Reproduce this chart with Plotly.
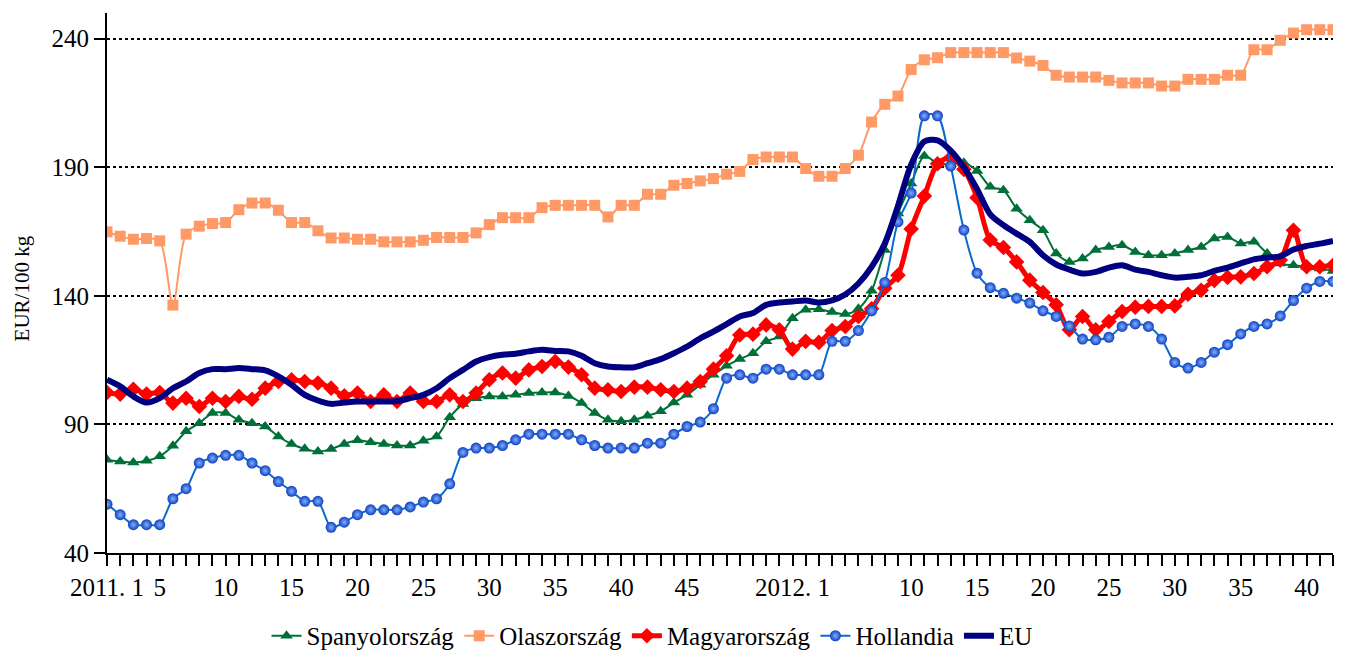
import plotly.graph_objects as go

# x positions: 2011 weeks 1-52 then 2012 weeks 1-42 (94 weekly points)
weeks_2011 = list(range(1, 53))
weeks_2012 = list(range(1, 43))
x_idx = list(range(len(weeks_2011) + len(weeks_2012)))

tick_positions = [0, 4, 9, 14, 19, 24, 29, 34, 39, 44, 52, 61, 66, 71, 76, 81, 86, 91]
tick_labels = ["2011. 1", "5", "10", "15", "20", "25", "30", "35", "40", "45",
               "2012. 1", "10", "15", "20", "25", "30", "35", "40"]

spanyol = [76.3, 75.6, 75.2, 75.9, 77.6, 81.7, 87.3, 90.5, 94.4, 94.4,
           91.8, 90.5, 89.2, 85.3, 82.4, 80.5, 79.5, 80.4, 82.4, 83.8,
           83.1, 82.4, 81.8, 81.8, 83.7, 85.3, 92.8, 97.9, 100.2, 100.9,
           100.9, 101.5, 102.2, 102.4, 102.4, 101.1, 98.3, 94.4, 91.8, 91.2,
           91.8, 93.4, 95.1, 98.5, 101.5, 105.4, 109.3, 112.8, 115.4, 117.7,
           122.3, 124.2, 131.3, 134.6, 134.8, 133.7, 132.9, 135.0, 142.0, 157.8,
           172.0, 183.7, 194.4, 191.5, 191.2, 191.8, 188.6, 182.4, 181.1, 173.9,
           169.4, 165.5, 156.5, 153.2, 154.5, 157.8, 159.0, 159.7, 157.1, 155.8,
           155.8, 156.5, 157.8, 159.0, 162.3, 162.9, 160.4, 161.0, 156.5, 152.6,
           151.9, 151.3, 150.6, 149.7]

olasz = [164.9, 163.2, 162.0, 162.3, 161.4, 136.4, 164.0, 167.1, 168.1, 168.5,
         173.5, 176.1, 176.1, 173.3, 168.5, 168.5, 165.3, 162.5, 162.5, 162.0,
         162.0, 161.0, 161.0, 161.0, 161.6, 162.7, 162.7, 162.7, 164.5, 167.7,
         170.4, 170.4, 170.4, 174.3, 175.2, 175.2, 175.2, 175.2, 170.7, 175.2,
         175.2, 179.5, 179.5, 183.0, 183.7, 184.7, 185.6, 187.3, 188.4, 193.0,
         194.0, 194.0, 194.0, 189.5, 186.5, 186.5, 189.5, 194.7, 207.6, 214.5,
         217.7, 228.0, 231.8, 232.6, 234.6, 234.6, 234.6, 234.6, 234.6, 232.5,
         231.3, 229.6, 225.8, 225.1, 225.1, 225.1, 223.8, 222.8, 222.8, 222.8,
         221.6, 221.6, 224.2, 224.2, 224.2, 225.8, 225.8, 235.7, 235.7, 239.4,
         242.2, 243.5, 243.5, 243.5]

magyar = [102.4, 101.8, 103.7, 101.8, 102.4, 98.3, 100.2, 97.0, 100.2, 98.9,
          100.9, 99.8, 104.1, 106.7, 107.4, 106.7, 106.1, 104.1, 101.1, 102.2,
          98.9, 101.5, 98.9, 102.2, 98.9, 98.9, 101.5, 98.9, 102.2, 107.4,
          110.0, 108.0, 111.2, 112.5, 114.5, 112.3, 109.3, 104.1, 103.5, 102.8,
          104.5, 104.5, 103.5, 102.8, 104.1, 106.7, 111.5, 116.7, 124.8, 125.1,
          128.7, 126.8, 119.3, 122.3, 121.9, 126.5, 128.1, 132.0, 135.0, 143.0,
          148.0, 166.0, 178.8, 191.4, 193.7, 189.2, 178.2, 161.7, 158.8, 153.2,
          146.1, 141.3, 136.5, 126.8, 132.0, 126.8, 130.0, 133.9, 135.6, 135.9,
          135.9, 136.1, 140.6, 142.2, 146.0, 147.2, 147.4, 148.7, 151.3, 153.9,
          165.5, 151.3, 151.3, 151.9]

holland = [59.0, 54.9, 51.0, 51.0, 51.0, 61.1, 65.0, 75.0, 76.9, 78.0,
           78.0, 75.0, 72.0, 67.8, 64.0, 60.1, 60.1, 50.0, 52.0, 54.9,
           56.8, 56.8, 56.8, 57.9, 59.8, 61.1, 66.9, 79.1, 80.8, 80.8,
           81.8, 84.0, 86.2, 86.2, 86.2, 86.2, 84.0, 81.8, 80.8, 80.8,
           80.8, 82.7, 82.7, 86.2, 89.2, 90.9, 96.1, 108.0, 109.3, 108.0,
           111.5, 111.5, 109.3, 109.3, 109.3, 122.3, 122.3, 126.5, 134.2, 145.2,
           168.8, 180.0, 210.0, 210.0, 190.5, 165.6, 148.8, 143.2, 141.0, 139.1,
           137.2, 134.2, 132.0, 128.3, 123.2, 122.9, 123.9, 128.1, 129.1, 128.1,
           123.2, 114.1, 111.9, 114.1, 118.1, 121.0, 125.2, 128.1, 129.1, 132.2,
           138.2, 143.0, 145.6, 145.6]

eu = [107.4, 104.8, 100.9, 98.5, 100.2, 104.1, 106.7, 110.0, 111.5, 111.5,
      111.9, 111.5, 111.0, 108.7, 105.4, 101.5, 99.3, 98.0, 98.5, 98.9,
      98.9, 98.9, 99.1, 100.2, 101.5, 104.1, 108.0, 111.2, 114.5, 116.2,
      117.1, 117.5, 118.4, 119.0, 118.6, 118.4, 116.7, 113.8, 112.5, 112.2,
      112.2, 113.8, 115.4, 117.7, 120.3, 123.5, 126.1, 129.0, 132.0, 133.3,
      136.5, 137.4, 137.8, 138.2, 137.4, 138.2, 140.5, 144.8, 151.3, 160.4,
      175.0, 191.0, 200.0, 200.5, 196.5, 190.0, 181.5, 171.7, 167.5, 164.2,
      161.0, 155.8, 152.2, 150.2, 148.7, 149.3, 151.0, 151.9, 150.2, 149.3,
      148.0, 147.1, 147.4, 148.0, 149.7, 151.0, 152.6, 154.2, 154.9, 155.4,
      158.0, 159.4, 160.3, 161.4]

FONT = "Liberation Serif"

fig = go.Figure()
fig.add_trace(go.Scatter(
    x=x_idx, y=spanyol, name="Spanyolország", mode="lines+markers",
    line=dict(color="#007038", width=2, shape="spline", smoothing=0.8),
    marker=dict(symbol="triangle-up", size=11, color="#007038")))
fig.add_trace(go.Scatter(
    x=x_idx, y=olasz, name="Olaszország", mode="lines+markers",
    line=dict(color="#FF9966", width=2, shape="spline", smoothing=0.8),
    marker=dict(symbol="square", size=11, color="#FF9966")))
fig.add_trace(go.Scatter(
    x=x_idx, y=magyar, name="Magyarország", mode="lines+markers",
    line=dict(color="#FF0000", width=5, shape="spline", smoothing=0.8),
    marker=dict(symbol="diamond", size=12, color="#FF0000")))
fig.add_trace(go.Scatter(
    x=x_idx, y=holland, name="Hollandia", mode="lines+markers",
    line=dict(color="#0A6AD0", width=2, shape="spline", smoothing=0.8),
    marker=dict(symbol="circle", size=11, color="#1040C0",
                gradient=dict(type="radial", color="#7FB0FF"))))
fig.add_trace(go.Scatter(
    x=x_idx, y=eu, name="EU", mode="lines",
    line=dict(color="#000080", width=6, shape="spline", smoothing=0.8)))

# The page body has an 8px margin, so the figure is sized to fill the window from there.
fig.update_layout(
    width=1337, height=643,
    margin=dict(l=99, r=12, t=5, b=98, autoexpand=False),
    paper_bgcolor="white", plot_bgcolor="white",
    font=dict(family=FONT, size=25, color="black"),
    showlegend=True,
    legend=dict(orientation="h", x=0.4817, xanchor="center", xref="container",
                y=-0.1537, yanchor="middle", yref="paper",
                font=dict(family=FONT, size=25, color="black"),
                itemwidth=30, tracegroupgap=0),
    annotations=[dict(text="EUR/100 kg", textangle=-90, showarrow=False,
                      xref="paper", yref="paper", x=-0.0693, y=0.49,
                      xanchor="center", yanchor="middle",
                      font=dict(family=FONT, size=21, color="black"))],
)

fig.update_xaxes(
    range=[0, 93], showgrid=False, zeroline=False,
    showline=True, linecolor="black", linewidth=2,
    tickmode="array", tickvals=tick_positions, ticktext=tick_labels,
    ticks="outside", ticklen=11, tickwidth=2, tickcolor="black",
    tickfont=dict(family=FONT, size=25, color="black"),
    minor=dict(dtick=1, tick0=0, ticks="outside", ticklen=11, tickwidth=2,
               tickcolor="black", showgrid=False),
)

fig.update_yaxes(
    range=[40, 250], tickmode="array", tickvals=[40, 90, 140, 190, 240],
    showgrid=True, gridcolor="black", gridwidth=2, griddash="3px,3px",
    zeroline=False, showline=True, linecolor="black", linewidth=2,
    ticks="outside", ticklen=11, tickwidth=2, tickcolor="black",
    tickfont=dict(family=FONT, size=25, color="black"),
)

fig.write_html("out.html")
